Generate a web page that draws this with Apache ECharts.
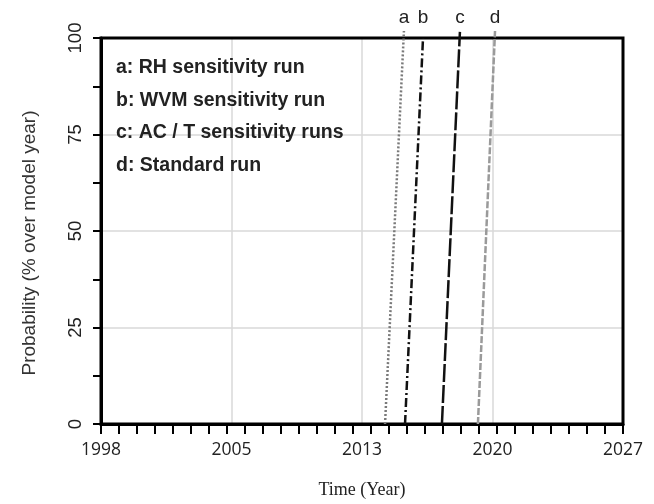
<!DOCTYPE html>
<html>
<head>
<meta charset="utf-8">
<script src="https://cdn.jsdelivr.net/npm/echarts@6/dist/echarts.min.js"></script>
<style>html,body{margin:0;padding:0;background:#fff}#c{width:654px;height:504px}</style>
</head>
<body>
<div id="c"></div>
<script>
// Data
var runLetters = ['a', 'b', 'c', 'd'];
var runNames = ['a: RH sensitivity run', 'b: WVM sensitivity run', 'c: AC / T sensitivity runs', 'd: Standard run'];
var probStart = [0, 0, 0, 0];
var probEnd = [101.8, 100, 101.6, 101.8];
var yearAtStart = [2013.78, 2014.89, 2016.94, 2018.94];
var yearAtEnd = [2014.83, 2015.89, 2017.94, 2019.89];
var xTickLabels = ['1998', '2005', '2013', '2020', '2027'];
var yTickLabels = ['0', '25', '50', '75', '100'];

var styles = [
  {color: '#7a7a7a', type: [2, 2], width: 2.5},
  {color: '#111', type: [9, 3, 2, 3], width: 2.5},
  {color: '#111', type: [18, 3], width: 2.5},
  {color: '#9a9a9a', type: [7, 2], width: 2.5}
];

var maxEnd = Math.max.apply(null, probEnd);
var series = runLetters.map(function (L, i) {
  return {
    type: 'line',
    name: L,
    xAxisIndex: 0,
    yAxisIndex: 0,
    symbol: 'circle',
    symbolSize: 1,
    showSymbol: true,
    itemStyle: {color: 'rgba(0,0,0,0)'},
    clip: false,
    silent: true,
    lineStyle: styles[i],
    labelLayout: {hideOverlap: false},
    data: [
      {value: [yearAtStart[i], probStart[i]]},
      {value: [yearAtEnd[i], probEnd[i]], label: {show: true, position: 'top', distance: 3 + (maxEnd - probEnd[i]) * 3.9, formatter: L, fontFamily: 'Liberation Sans, Arial', fontSize: 19, color: '#222'}}
    ],
    z: 5
  };
});

var chart = echarts.init(document.getElementById('c'));
chart.setOption({
  animation: false,
  backgroundColor: '#fff',
  grid: {left: 101, right: 31, top: 38, bottom: 76, show: true, borderColor: '#000', borderWidth: 3, backgroundColor: 'transparent', z: 3},
  xAxis: [{
    type: 'value', min: 1998, max: 2027, interval: 7.25, position: 'bottom',
    name: 'Time (Year)', nameLocation: 'middle', nameGap: 57,
    nameTextStyle: {fontFamily: 'Liberation Serif, Times New Roman', fontSize: 18, color: '#222'},
    axisLine: {show: true, lineStyle: {color: '#000', width: 3}},
    axisTick: {show: false},
    axisLabel: {margin: 17, fontFamily: 'Open Sans', fontSize: 17.5, color: '#222',
      formatter: function (v) { var idx = Math.round((v - 1998) / 7.25); return xTickLabels[idx] || ''; }},
    splitLine: {show: true, lineStyle: {color: '#d8d8d8', width: 1.5}}
  }, {
    type: 'value', min: 1998, max: 2027, interval: 1, position: 'bottom',
    axisLine: {show: false},
    axisTick: {show: true, length: 10, lineStyle: {color: '#000', width: 2}},
    axisLabel: {show: false},
    splitLine: {show: false}
  }],
  yAxis: [{
    type: 'value', min: 0, max: 100, interval: 25,
    name: 'Probability (% over model year)', nameLocation: 'middle', nameGap: 62,
    nameTextStyle: {fontFamily: 'Liberation Sans, Arial', fontSize: 19, color: '#333', padding: [0, 24, 0, 0]},
    axisLine: {show: true, lineStyle: {color: '#000', width: 3}},
    axisTick: {show: true, length: 8, lineStyle: {color: '#000', width: 2}},
    minorTick: {show: true, splitNumber: 2, length: 8, lineStyle: {color: '#000', width: 2}},
    axisLabel: {rotate: 90, margin: 16, fontFamily: 'Liberation Sans, Arial', fontSize: 18.5, color: '#222',
      formatter: function (v) { return yTickLabels[Math.round(v / 25)]; }},
    splitLine: {show: true, lineStyle: {color: '#d8d8d8', width: 1.5}}
  }],
  graphic: runNames.map(function (t, i) {
    return {type: 'text', left: 116, top: 58 + i * 32.5, z: 10,
      style: {text: t, fontFamily: 'Liberation Sans, Arial', fontWeight: 'bold', fontSize: 19.5, fill: '#222'}};
  }),
  series: series
});
</script>
</body>
</html>
